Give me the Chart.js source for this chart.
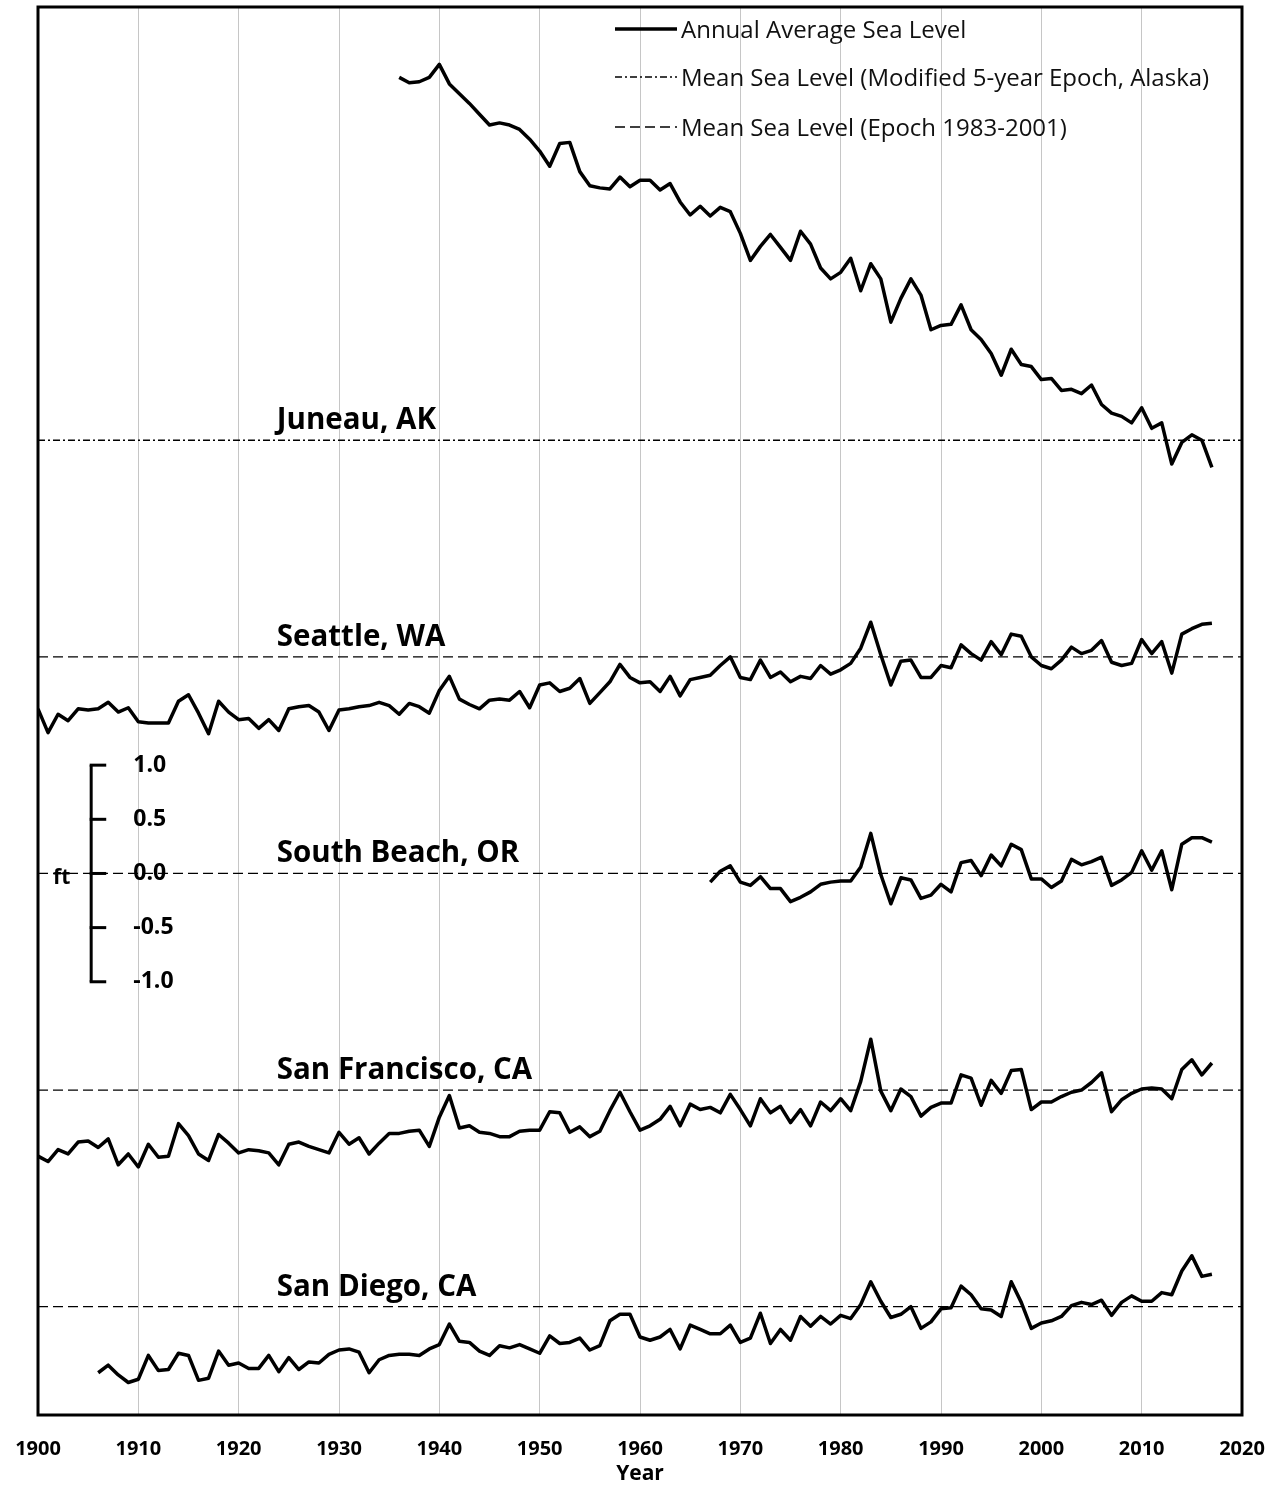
<!DOCTYPE html>
<html>
<head>
<meta charset="utf-8">
<script src="https://cdn.jsdelivr.net/npm/chart.js@4.4.1/dist/chart.umd.min.js"></script>
<style>
  html, body { margin: 0; padding: 0; background: #ffffff; }
  #wrap { width: 1275px; height: 1485px; }
</style>
</head>
<body>
<div id="wrap"><canvas id="c" width="1275" height="1485"></canvas></div>
<script>
// ---- data (feet relative to each station's datum) ----
const juneauStart = 1936;
const juneauValues = [3.35, 3.30, 3.31, 3.35,
  3.47, 3.29, 3.20, 3.11, 3.01, 2.91, 2.93, 2.91, 2.87, 2.78,
  2.67, 2.53, 2.74, 2.75, 2.48, 2.35, 2.33, 2.32, 2.43, 2.34,
  2.40, 2.40, 2.31, 2.37, 2.20, 2.08, 2.16, 2.07, 2.15, 2.11,
  1.91, 1.66, 1.79, 1.90, 1.78, 1.66, 1.93, 1.81, 1.59, 1.49,
  1.55, 1.68, 1.38, 1.63, 1.49, 1.09, 1.31, 1.49, 1.34, 1.02,
  1.06, 1.07, 1.25, 1.02, 0.93, 0.80, 0.60, 0.84, 0.70, 0.68,
  0.56, 0.57, 0.46, 0.47, 0.43, 0.51, 0.33, 0.25, 0.22, 0.16,
  0.30, 0.11, 0.16, -0.22, -0.02, 0.05, 0.00, -0.25];

const seattleStart = 1900;
const seattleValues = [
  -0.48, -0.70, -0.53, -0.59, -0.48, -0.49, -0.48, -0.42, -0.51, -0.47,
  -0.60, -0.61, -0.61, -0.61, -0.41, -0.35, -0.52, -0.71, -0.41, -0.51,
  -0.58, -0.57, -0.66, -0.58, -0.68, -0.48, -0.46, -0.45, -0.51, -0.68,
  -0.49, -0.48, -0.46, -0.45, -0.42, -0.45, -0.53, -0.43, -0.46, -0.52,
  -0.31, -0.18, -0.39, -0.44, -0.48, -0.40, -0.39, -0.40, -0.32, -0.47,
  -0.26, -0.24, -0.32, -0.29, -0.20, -0.43, -0.33, -0.23, -0.07, -0.19,
  -0.24, -0.23, -0.32, -0.18, -0.36, -0.21, -0.19, -0.17, -0.08, 0.00,
  -0.19, -0.21, -0.03, -0.19, -0.14, -0.23, -0.18, -0.20, -0.08, -0.16,
  -0.12, -0.06, 0.08, 0.32, 0.02, -0.26, -0.04, -0.03, -0.19, -0.19,
  -0.08, -0.10, 0.11, 0.03, -0.03, 0.14, 0.02, 0.21, 0.19, 0.00,
  -0.08, -0.11, -0.03, 0.09, 0.03, 0.06, 0.15, -0.05, -0.08, -0.06,
  0.16, 0.03, 0.14, -0.15, 0.21, 0.26, 0.30, 0.31];

const southBeachStart = 1967;
const southBeachValues = [-0.08, 0.02, 0.07,
  -0.08, -0.11, -0.03, -0.14, -0.14, -0.26, -0.22, -0.17, -0.10, -0.08,
  -0.07, -0.07, 0.06, 0.37, -0.01, -0.28, -0.04, -0.06, -0.23, -0.20,
  -0.10, -0.17, 0.10, 0.12, -0.02, 0.17, 0.07, 0.27, 0.22, -0.05,
  -0.05, -0.13, -0.07, 0.13, 0.08, 0.11, 0.15, -0.11, -0.06, 0.01,
  0.21, 0.03, 0.21, -0.15, 0.27, 0.33, 0.33, 0.29];

const sanFranciscoStart = 1900;
const sanFranciscoValues = [
  -0.61, -0.66, -0.55, -0.59, -0.48, -0.47, -0.53, -0.45, -0.69, -0.59,
  -0.71, -0.50, -0.62, -0.61, -0.31, -0.42, -0.59, -0.65, -0.41, -0.49,
  -0.58, -0.55, -0.56, -0.58, -0.69, -0.50, -0.48, -0.52, -0.55, -0.58,
  -0.39, -0.50, -0.44, -0.59, -0.49, -0.40, -0.40, -0.38, -0.37, -0.52,
  -0.25, -0.05, -0.35, -0.33, -0.39, -0.40, -0.43, -0.43, -0.38, -0.37,
  -0.37, -0.20, -0.21, -0.39, -0.34, -0.43, -0.38, -0.19, -0.02, -0.20,
  -0.37, -0.33, -0.27, -0.15, -0.33, -0.13, -0.18, -0.16, -0.21, -0.04,
  -0.18, -0.33, -0.08, -0.21, -0.15, -0.30, -0.18, -0.33, -0.11, -0.19,
  -0.08, -0.19, 0.08, 0.47, -0.01, -0.19, 0.01, -0.06, -0.24, -0.16,
  -0.12, -0.12, 0.14, 0.11, -0.14, 0.09, -0.03, 0.18, 0.19, -0.18,
  -0.11, -0.11, -0.06, -0.02, 0.00, 0.07, 0.16, -0.20, -0.09, -0.03,
  0.01, 0.02, 0.01, -0.08, 0.19, 0.28, 0.14, 0.25];

const sanDiegoStart = 1906;
const sanDiegoValues = [-0.61, -0.54, -0.63, -0.70,
  -0.67, -0.45, -0.59, -0.58, -0.43, -0.45, -0.68, -0.66, -0.41, -0.54,
  -0.52, -0.57, -0.57, -0.45, -0.60, -0.47, -0.58, -0.51, -0.52, -0.44,
  -0.40, -0.39, -0.42, -0.61, -0.49, -0.45, -0.44, -0.44, -0.45, -0.39,
  -0.35, -0.16, -0.32, -0.33, -0.41, -0.45, -0.36, -0.38, -0.35, -0.39,
  -0.43, -0.27, -0.34, -0.33, -0.29, -0.40, -0.36, -0.13, -0.07, -0.07,
  -0.28, -0.31, -0.28, -0.21, -0.39, -0.17, -0.21, -0.25, -0.25, -0.17,
  -0.33, -0.29, -0.06, -0.34, -0.21, -0.31, -0.09, -0.18, -0.09, -0.16,
  -0.08, -0.11, 0.02, 0.23, 0.05, -0.10, -0.07, 0.00, -0.20, -0.14,
  -0.02, -0.01, 0.19, 0.11, -0.02, -0.03, -0.09, 0.23, 0.04, -0.20,
  -0.15, -0.13, -0.09, 0.01, 0.04, 0.02, 0.06, -0.08, 0.04, 0.10,
  0.05, 0.05, 0.13, 0.11, 0.33, 0.47, 0.28, 0.30];

const stationNames = ["Juneau, AK", "Seattle, WA", "South Beach, OR", "San Francisco, CA", "San Diego, CA"];
const stationOffsets = [4, 2, 0, -2, -4];   // vertical stacking offset, ft
const xTickLabels = [1900, 1910, 1920, 1930, 1940, 1950, 1960, 1970, 1980, 1990, 2000, 2010, 2020];
const scaleTickValues = [1.0, 0.5, 0.0, -0.5, -1.0];
const legendLabels = ["Annual Average Sea Level",
  "Mean Sea Level (Modified 5-year Epoch, Alaska)",
  "Mean Sea Level (Epoch 1983-2001)"];

// ---- build datasets ----
const seriesStarts = [juneauStart, seattleStart, southBeachStart, sanFranciscoStart, sanDiegoStart];
const seriesValues = [juneauValues, seattleValues, southBeachValues, sanFranciscoValues, sanDiegoValues];

function toPoints(start, vals, off) {
  return vals.map((v, i) => ({ x: start + i, y: v + off }));
}

const datasets = [];
stationOffsets.forEach((off, i) => {
  datasets.push({
    label: "datum " + stationNames[i],
    data: [{ x: xTickLabels[0], y: off }, { x: xTickLabels[xTickLabels.length - 1], y: off }],
    borderColor: "#000000",
    borderWidth: 1.3,
    borderDash: i === 0 ? [7, 3, 2, 3] : [10, 5],
    pointRadius: 0,
    fill: false,
    order: 2
  });
});
stationOffsets.forEach((off, i) => {
  datasets.push({
    label: stationNames[i],
    data: toPoints(seriesStarts[i], seriesValues[i], off),
    borderColor: "#000000",
    borderWidth: 3.5,
    borderJoinStyle: "round",
    tension: 0,
    pointRadius: 0,
    fill: false,
    order: 1
  });
});

const FONT = "'Open Sans', Lato, 'DejaVu Sans', sans-serif";

const decorPlugin = {
  id: "decor",
  afterDraw(chart) {
    const ctx = chart.ctx;
    const a = chart.chartArea;
    const xs = chart.scales.x, ys = chart.scales.y;
    ctx.save();
    // plot border
    ctx.strokeStyle = "#000";
    ctx.lineWidth = 3;
    ctx.strokeRect(a.left, a.top, a.right - a.left, a.bottom - a.top);

    // station labels
    ctx.fillStyle = "#000";
    ctx.font = "bold 29.5px " + FONT;
    ctx.textBaseline = "middle";
    ctx.textAlign = "left";
    stationNames.forEach((n, i) => {
      ctx.fillText(n, xs.getPixelForValue(1923.8), ys.getPixelForValue(stationOffsets[i] + 0.18));
    });

    // scale bracket
    const bx = xs.getPixelForValue(1905.3);
    const tx = xs.getPixelForValue(1906.8);
    ctx.lineWidth = 3;
    ctx.beginPath();
    ctx.moveTo(bx, ys.getPixelForValue(1.0));
    ctx.lineTo(bx, ys.getPixelForValue(-1.0));
    ctx.stroke();
    ctx.font = "bold 23px " + FONT;
    scaleTickValues.forEach(v => {
      const py = ys.getPixelForValue(v);
      ctx.beginPath();
      ctx.moveTo(bx - 1.5, py);
      ctx.lineTo(tx, py);
      ctx.stroke();
      ctx.fillText(v.toFixed(1), xs.getPixelForValue(1909.5), py);
    });
    ctx.font = "bold 21px " + FONT;
    ctx.fillText("ft", xs.getPixelForValue(1901.5), ys.getPixelForValue(-0.04));

    // legend
    const lx0 = 615, lx1 = 677, tx0 = 681;
    const rows = [29, 77, 127];
    ctx.font = "24px " + FONT;
    ctx.fillStyle = "#111";
    rows.forEach((ry, i) => {
      ctx.beginPath();
      if (i === 0) { ctx.lineWidth = 3.5; ctx.setLineDash([]); }
      else if (i === 1) { ctx.lineWidth = 1.3; ctx.setLineDash([7, 3, 2, 3]); }
      else { ctx.lineWidth = 1.3; ctx.setLineDash([10, 5]); }
      ctx.moveTo(lx0, ry);
      ctx.lineTo(lx1, ry);
      ctx.stroke();
      ctx.setLineDash([]);
      ctx.fillText(legendLabels[i], tx0, ry + 2);
    });
    ctx.restore();
  }
};

new Chart(document.getElementById("c"), {
  type: "line",
  data: { datasets },
  options: {
    responsive: false,
    animation: false,
    devicePixelRatio: 1,
    layout: { padding: { left: 38, right: 33, top: 7, bottom: 0 } },
    plugins: { legend: { display: false }, tooltip: { enabled: false } },
    scales: {
      x: {
        type: "linear",
        min: xTickLabels[0],
        max: xTickLabels[xTickLabels.length - 1],
        afterBuildTicks: (s) => { s.ticks = xTickLabels.map(v => ({ value: v })); },
        afterFit: (s) => { s.height = 70; s.paddingLeft = 0; s.paddingRight = 0; },
        ticks: {
          color: "#000",
          font: { family: FONT, size: 20, weight: "bold" },
          padding: 22,
          maxRotation: 0,
          callback: (v) => String(v)
        },
        grid: { color: "#c6c6c6", lineWidth: 1, drawTicks: false },
        border: { display: false },
        title: {
          display: true, text: "Year", color: "#000",
          font: { family: FONT, size: 21, weight: "bold" },
          padding: { top: 0, bottom: -2 }
        }
      },
      y: {
        display: false,
        min: -5,
        max: 8
      }
    }
  },
  plugins: [decorPlugin]
});
</script>
</body>
</html>
